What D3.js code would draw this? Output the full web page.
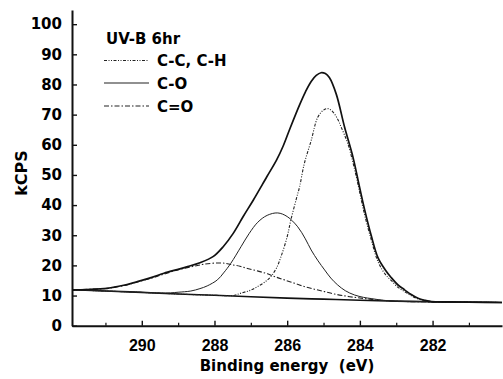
<!DOCTYPE html>
<html><head><meta charset="utf-8">
<script src="https://cdn.jsdelivr.net/npm/d3@7"></script>
<style>
html,body{margin:0;padding:0;background:#fff;}
svg{display:block;}
</style></head>
<body>
<svg id="chart" width="503" height="379"></svg>
<script>
// ---- data (binding energy eV, kCPS) ----
const xTicks = [290, 288, 286, 284, 282];
const xMinorTicks = [291, 289, 287, 285, 283, 281];
const yTicks = [0, 10, 20, 30, 40, 50, 60, 70, 80, 90, 100];
const legendTitle = "UV-B 6hr";
const seriesNames = ["C-C, C-H", "C-O", "C=O"];

const envelopeE = [291.92,291.5,290.95,290.5,290.12,289.7,289.39,289.0,288.74,288.4,288.03,287.76,287.48,287.21,286.93,286.56,286.29,286.11,285.92,285.65,285.5,285.34,285.2,285.07,284.95,284.84,284.65,284.42,284.19,284.01,283.87,283.69,283.5,283.3,283.14,282.95,282.77,282.6,282.4,282.2,282.03,281.5,281.0,280.09];
const envelopeV = [11.9,12.0,12.4,13.4,14.6,16.1,17.4,18.7,19.6,20.9,23.0,26.2,30.7,36.2,41.7,49.4,55.0,59.6,65.5,73.5,77.5,81.0,83.0,83.9,83.6,82.3,76.8,65.8,55.9,46.0,38.5,30.0,22.5,18.5,16.0,13.5,11.9,10.4,9.1,8.4,8.0,7.9,7.8,7.7];

const backgroundE = [291.92,291,290,289,288,287,286,285,284,283,282,281,280.09];
const backgroundV = [11.9,11.5,11.05,10.5,10.1,9.6,9.15,8.8,8.45,8.15,7.95,7.8,7.7];

const ccE = [291.92,291,290,289,288.0,287.5,287.27,287.0,286.81,286.6,286.45,286.3,286.17,286.0,285.9,285.75,285.66,285.53,285.34,285.16,285.0,284.88,284.75,284.61,284.52,284.33,284.1,284.01,283.87,283.69,283.5,283.3,283.14,282.95,282.77,282.6,282.4,282.2,282.03,281.5,281.0,280.09];
const ccV = [11.9,11.5,11.05,10.5,10.1,10.0,10.8,11.8,13.0,14.6,16.3,19.0,22.9,29.5,35.0,42.0,46.0,53.7,61.4,69.1,71.5,72.0,71.0,68.5,66.0,60.3,49.5,44.5,36.8,28.6,21.2,17.0,15.0,12.7,11.3,10.0,8.9,8.3,8.0,7.85,7.8,7.7];

const coE = [291.92,291,290,289.5,289.21,289.0,288.65,288.4,288.2,287.92,287.75,287.55,287.27,287.05,286.81,286.55,286.26,286.0,285.71,285.5,285.34,285.15,284.97,284.8,284.61,284.4,284.15,283.9,283.69,283.4,283.0,282.0,281.0,280.09];
const coV = [11.9,11.5,11.05,10.85,10.9,11.1,11.5,12.3,13.2,15.2,17.5,20.7,26.2,30.5,34.3,36.6,37.4,36.2,32.8,28.8,25.1,21.5,18.5,15.8,13.5,11.6,10.2,9.4,9.0,8.5,8.1,7.9,7.8,7.7];

const coxE = [291.92,291.5,290.95,290.5,290.12,289.7,289.39,289.1,288.84,288.5,288.28,287.92,287.7,287.55,287.3,287.09,286.8,286.54,286.3,286.08,285.8,285.53,285.25,284.97,284.7,284.42,284.15,283.87,283.5,283.0,282.0,281.0,280.09];
const coxV = [11.9,12.05,12.4,13.3,14.5,15.9,17.1,18.2,19.0,19.9,20.4,20.8,20.7,20.3,19.7,19.0,18.1,17.2,16.1,15.2,14.1,13.0,12.1,11.3,10.5,9.9,9.4,9.0,8.5,8.1,7.9,7.8,7.7];

// ---- drawing ----
const svg = d3.select("#chart");
const x = d3.scaleLinear().domain([291.92, 280.09]).range([72, 502]);
const y = d3.scaleLinear().domain([0, 104.7]).range([325.7, 10]);

const zip = (E, V) => E.map((e, i) => [e, V[i]]);
const line = d3.line().x(d => x(d[0])).y(d => y(d[1])).curve(d3.curveCatmullRom.alpha(0.5));

const ink = "#111";
svg.append("path").datum(zip(backgroundE, backgroundV)).attr("d", line)
  .attr("fill", "none").attr("stroke", ink).attr("stroke-width", 1.6);
svg.append("path").datum(zip(coxE, coxV)).attr("d", line)
  .attr("fill", "none").attr("stroke", "#222").attr("stroke-width", 1.1)
  .attr("stroke-dasharray", "5,2,1.5,2");
svg.append("path").datum(zip(coE, coV)).attr("d", line)
  .attr("fill", "none").attr("stroke", "#222").attr("stroke-width", 1.0);
svg.append("path").datum(zip(ccE, ccV)).attr("d", line)
  .attr("fill", "none").attr("stroke", "#222").attr("stroke-width", 1.1)
  .attr("stroke-dasharray", "3,1.5,1,1.5,1,1.5");
svg.append("path").datum(zip(envelopeE, envelopeV)).attr("d", line)
  .attr("fill", "none").attr("stroke", ink).attr("stroke-width", 1.7);

// axes
const xAxis = d3.axisBottom(x).tickValues(xTicks).tickSizeInner(-5).tickSizeOuter(0).tickPadding(14).tickFormat(d3.format("d"));
const gx = svg.append("g").attr("transform", "translate(0,325.7)").call(xAxis);
gx.select(".domain").attr("stroke", ink).attr("stroke-width", 2);
gx.selectAll(".tick line").attr("stroke", ink).attr("stroke-width", 1.4);
gx.selectAll(".tick text").attr("font-family", "Liberation Sans, Arial, sans-serif")
  .attr("font-weight", "bold").attr("font-size", 16).attr("fill", "#000");
const xMinor = d3.axisBottom(x).tickValues(xMinorTicks).tickSizeInner(-3).tickSizeOuter(0).tickFormat("");
const gxm = svg.append("g").attr("transform", "translate(0,325.7)").call(xMinor);
gxm.select(".domain").remove();
gxm.selectAll(".tick line").attr("stroke", ink).attr("stroke-width", 1.2);

const yAxis = d3.axisLeft(y).tickValues(yTicks).tickSizeInner(-5).tickSizeOuter(0).tickPadding(10).tickFormat(d3.format("d"));
const gy = svg.append("g").attr("transform", "translate(72,0)").call(yAxis);
gy.select(".domain").attr("stroke", ink).attr("stroke-width", 2);
gy.selectAll(".tick line").attr("stroke", ink).attr("stroke-width", 1.4);
gy.selectAll(".tick text").attr("font-family", "DejaVu Sans, sans-serif")
  .attr("font-weight", "bold").attr("font-size", 15).attr("fill", "#000");

// axis titles
svg.append("text").attr("x", 287).attr("y", 371).attr("text-anchor", "middle")
  .attr("font-family", "DejaVu Sans, sans-serif").attr("font-weight", "bold").attr("font-size", 15)
  .attr("xml:space", "preserve").style("white-space", "pre")
  .text("Binding energy  (eV)");
svg.append("text").attr("transform", "translate(27,173) rotate(-90)").attr("text-anchor", "middle")
  .attr("font-family", "DejaVu Sans, sans-serif").attr("font-weight", "bold").attr("font-size", 16)
  .text("kCPS");

// legend
const lg = svg.append("g").attr("font-family", "DejaVu Sans, sans-serif").attr("font-weight", "bold").attr("font-size", 15);
lg.append("text").attr("x", 106).attr("y", 44).text(legendTitle);
const legendStyles = [
  {dash: "3,1.5,1,1.5,1,1.5"},
  {dash: null},
  {dash: "5,2,1.5,2"}
];
const legendY = [60.5, 83, 106];
seriesNames.forEach((name, i) => {
  lg.append("line").attr("x1", 104).attr("x2", 149).attr("y1", legendY[i]).attr("y2", legendY[i])
    .attr("stroke", "#222").attr("stroke-width", 1.1)
    .attr("stroke-dasharray", legendStyles[i].dash);
  lg.append("text").attr("x", 157).attr("y", legendY[i] + 5.5).text(name);
});
</script>
</body></html>
